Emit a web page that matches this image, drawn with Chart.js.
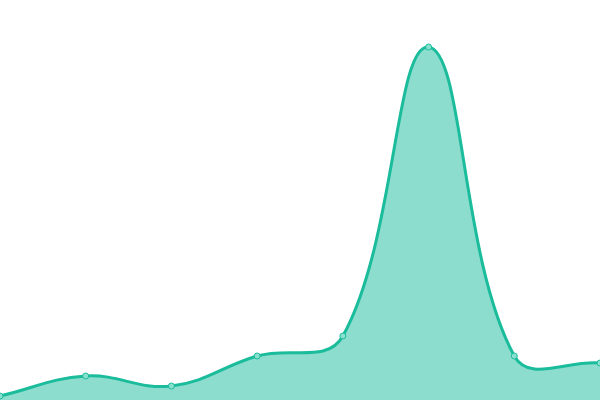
<!DOCTYPE html>
<html>
<head>
<meta charset="utf-8">
<script src="https://cdn.jsdelivr.net/npm/chart.js@4"></script>
<style>
  html, body { margin: 0; padding: 0; background: #fff; }
  #wrap { width: 600px; height: 400px; }
</style>
</head>
<body>
<div id="wrap"><canvas id="areaChart" width="600" height="400"></canvas></div>
<script>
// Values (0..400 scale, no visible axes)
const labels = ['1', '2', '3', '4', '5', '6', '7', '8'];
const values = [4, 24, 14, 44, 64, 353, 44, 37];

const ctx = document.getElementById('areaChart').getContext('2d');
const areaChart = new Chart(ctx, {
  type: 'line',
  data: {
    labels: labels,
    datasets: [{
      data: values,
      borderColor: '#1abc9c',
      backgroundColor: 'rgba(26,188,156,0.5)',
      borderWidth: 3,
      pointRadius: 3,
      pointBorderWidth: 1,
      pointBackgroundColor: '#8ae0cf',
      pointBorderColor: '#1abc9c',
      tension: 0.4,
      fill: true
    }]
  },
  options: {
    responsive: false,
    animation: false,
    layout: { padding: 0, autoPadding: false },
    plugins: {
      legend: { display: false },
      tooltip: { enabled: false }
    },
    scales: {
      x: { display: false },
      y: { display: false, min: 0, max: 400 }
    }
  }
});
</script>
</body>
</html>
